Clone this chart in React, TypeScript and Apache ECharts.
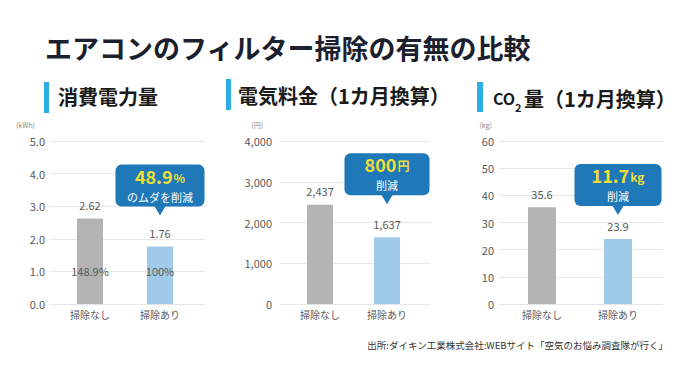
import React, { useEffect, useRef } from 'react';
import * as echarts from 'echarts';

const categories = ['掃除なし', '掃除あり'];
const powerKWh = [2.62, 1.76];
const powerShare = ['148.9%', '100%'];
const costYen = [2437, 1637];
const co2Kg = [35.6, 23.9];
const axisMax = [5, 4000, 60];
const axisInterval = [1, 1000, 10];
const axisUnits = ['(kWh)', '(円)', '(kg)'];
const savingValues = ['48.9', '800', '11.7'];
const savingUnits = ['%', '円', 'kg'];
const savingNotes = ['のムダを削減', '削減', '削減'];
const mainTitle = 'エアコンのフィルター掃除の有無の比較';
const panelTitles = ['消費電力量', '電気料金（1カ月換算）'];
const co2TitleParts = ['CO', '2', '量（1カ月換算）'];
const sourceNote = '出所:ダイキン工業株式会社:WEBサイト「空気のお悩み調査隊が行く」';

const FONT = '"Noto Sans CJK JP", "Noto Sans", sans-serif';
const GRAY = '#b3b3b3';
const BLUE = '#9fcae8';
const CALLOUT = '#1f78b8';
const YELLOW = '#f0de34';
const MARK = '#2cace2';
const TEXT = '#595959';

const seriesValues = [powerKWh, costYen, co2Kg];
const layout = [
  { lineLeft: 50, lineWidth: 155, barLeft: 55, barArea: 140, bar: 26, labelMargin: 5, unitPad: 15, tipOff: 31, cw: 89 },
  { lineLeft: 280, lineWidth: 150, barLeft: 286.5, barArea: 134, bar: 26, labelMargin: 8, unitPad: 17, tipOff: 33, cw: 85 },
  { lineLeft: 499, lineWidth: 164, barLeft: 504, barArea: 152, bar: 28, labelMargin: 5, unitPad: 7, tipOff: 24, cw: 87 },
];
const GRID_TOP = 141;
const GRID_H = 163;

const tickFmt = [
  (v: number) => v.toFixed(1),
  (v: number) => v.toLocaleString('en-US'),
  (v: number) => String(v),
];
const valueFmt = [
  (v: number) => v.toFixed(2),
  (v: number) => v.toLocaleString('en-US'),
  (v: number) => v.toFixed(1),
];

export default function App() {
  const ref = useRef<HTMLDivElement>(null);
  useEffect(() => {
    if (!ref.current) return;
    const chart = echarts.init(ref.current, undefined, { renderer: 'svg' });
    const grid: any[] = [];
    const xAxis: any[] = [];
    const yAxis: any[] = [];
    const series: any[] = [];
    layout.forEach((L, i) => {
      grid.push({ left: L.lineLeft, top: GRID_TOP, width: L.lineWidth, height: GRID_H, outerBoundsMode: 'none' });
      grid.push({ left: L.barLeft, top: GRID_TOP, width: L.barArea, height: GRID_H, outerBoundsMode: 'none' });
      xAxis.push({ gridIndex: 2 * i, type: 'value', show: false });
      xAxis.push({
        gridIndex: 2 * i + 1,
        type: 'category',
        data: categories,
        axisLine: { show: false },
        axisTick: { show: false },
        axisLabel: { color: TEXT, fontSize: 10, margin: 5, fontFamily: FONT },
      });
      yAxis.push({
        gridIndex: 2 * i,
        type: 'value',
        min: 0,
        max: axisMax[i],
        interval: axisInterval[i],
        name: axisUnits[i],
        nameLocation: 'end',
        nameGap: 16,
        nameTextStyle: {
          fontSize: 7,
          color: '#8a8a8a',
          fontFamily: FONT,
          align: 'right',
          verticalAlign: 'middle',
          padding: [0, L.unitPad, 0, 0],
        },
        axisLine: { show: false },
        axisTick: { show: false },
        splitLine: { lineStyle: { color: '#e6e6e6', width: 1 } },
        axisLabel: { color: TEXT, fontSize: 11, margin: L.labelMargin, fontFamily: FONT, formatter: tickFmt[i] },
      });
      yAxis.push({ gridIndex: 2 * i + 1, type: 'value', min: 0, max: axisMax[i], show: false });
      series.push({
        type: 'bar',
        xAxisIndex: 2 * i + 1,
        yAxisIndex: 2 * i + 1,
        barWidth: L.bar,
        barGap: '-100%',
        data: seriesValues[i].map((v, k) => ({ value: v, itemStyle: { color: k === 0 ? GRAY : BLUE } })),
        label: {
          show: true,
          position: 'top',
          distance: 8,
          color: TEXT,
          fontSize: 11,
          fontFamily: FONT,
          formatter: (p: any) => valueFmt[i](p.value),
        },
      });
      if (i === 0) {
        series.push({
          type: 'bar',
          xAxisIndex: 1,
          yAxisIndex: 1,
          barWidth: L.bar,
          barGap: '-100%',
          data: powerKWh,
          itemStyle: { color: 'rgba(0,0,0,0)' },
          label: {
            show: true,
            position: 'insideBottom',
            distance: 28,
            color: TEXT,
            fontSize: 11,
            fontFamily: FONT,
            formatter: (p: any) => powerShare[p.dataIndex],
          },
        });
      }
    });

    chart.setOption({ animation: false, backgroundColor: '#ffffff', grid, xAxis, yAxis, series });

    const graphic: any[] = [];
    graphic.push({
      type: 'text',
      x: 45,
      y: 47,
      style: { text: mainTitle, fill: '#1c1f2e', fontSize: 27, fontWeight: 'bold', fontFamily: FONT, verticalAlign: 'middle' },
    });
    const markers = [
      [44, 82, 5, 31],
      [226, 79, 5, 31],
      [477, 82, 6, 30],
    ];
    markers.forEach(([x, y, w, h]) => {
      graphic.push({ type: 'rect', shape: { x, y, width: w, height: h }, style: { fill: MARK } });
    });
    const titleStyle = { fill: '#1a1a1a', fontSize: 20, fontWeight: 'bold', fontFamily: FONT, verticalAlign: 'middle' };
    graphic.push({ type: 'text', x: 58, y: 96, style: { ...titleStyle, text: panelTitles[0] } });
    graphic.push({ type: 'text', x: 238, y: 95, style: { ...titleStyle, text: panelTitles[1] } });
    graphic.push({ type: 'text', x: 493, y: 98, style: { ...titleStyle, fontSize: 16, text: co2TitleParts[0] } });
    graphic.push({ type: 'text', x: 515, y: 107, style: { ...titleStyle, fontSize: 11, text: co2TitleParts[1] } });
    graphic.push({ type: 'text', x: 524, y: 98, style: { ...titleStyle, text: co2TitleParts[2] } });

    layout.forEach((L, i) => {
      const p = chart.convertToPixel({ xAxisIndex: 2 * i + 1, yAxisIndex: 2 * i + 1 } as any, [
        categories[1],
        seriesValues[i][1],
      ]) as number[];
      const cx = p[0];
      const tipY = p[1] - L.tipOff;
      const h = 42;
      const top = -9 - h;
      graphic.push({
        type: 'group',
        x: cx,
        y: tipY,
        children: [
          { type: 'rect', shape: { x: -L.cw / 2, y: top, width: L.cw, height: h, r: 6 }, style: { fill: CALLOUT } },
          { type: 'polygon', shape: { points: [[-6, -10], [6, -10], [0, 0]] }, style: { fill: CALLOUT } },
          {
            type: 'text',
            x: 0,
            y: top + 11,
            style: {
              text: `{v|${savingValues[i]}}{u|${savingUnits[i]}}`,
              align: 'center',
              verticalAlign: 'middle',
              rich: {
                v: { fill: YELLOW, fontSize: 18, lineHeight: 18, fontWeight: 'bold', fontFamily: FONT },
                u: { fill: YELLOW, fontSize: 12, lineHeight: 18, fontWeight: 'bold', fontFamily: FONT, padding: [3, 0, 0, 1] },
              },
            },
          },
          {
            type: 'text',
            x: 0,
            y: top + 32,
            style: { text: savingNotes[i], fill: '#ffffff', fontSize: 11, lineHeight: 11, fontFamily: FONT, align: 'center', verticalAlign: 'middle' },
          },
        ],
      });
    });

    graphic.push({
      type: 'text',
      x: 668,
      y: 345,
      style: { text: sourceNote, fill: '#333333', fontSize: 9.5, fontFamily: FONT, align: 'right', verticalAlign: 'middle' },
    });

    chart.setOption({ graphic });
    return () => chart.dispose();
  }, []);
  return <div ref={ref} style={{ position: 'fixed', left: 0, top: 0, width: 700, height: 384 }} />;
}
